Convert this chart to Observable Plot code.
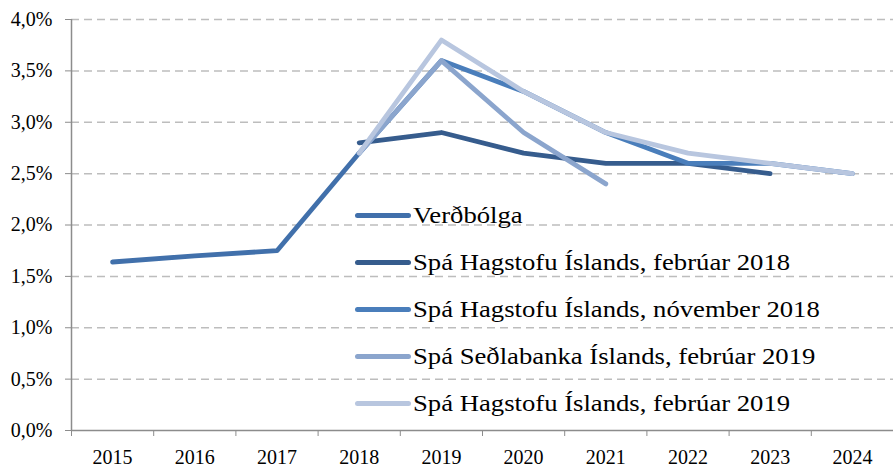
<!DOCTYPE html>
<html><head><meta charset="utf-8">
<script src="https://cdn.jsdelivr.net/npm/d3@7"></script>
<script src="https://cdn.jsdelivr.net/npm/@observablehq/plot@0.6"></script>
<style>
body{margin:0;background:#fff;}
#wrap{position:relative;width:893px;height:468px;}
svg text{font-family:"Liberation Serif",Tinos,serif;font-size:20px;fill:#000;}
#legend{position:absolute;left:355px;top:192px;font-family:"Liberation Serif",Tinos,serif;font-size:23px;color:#000;}
.row{display:flex;align-items:center;height:47px;white-space:nowrap;}
.sw{width:56px;height:5px;border-radius:3px;margin-right:2px;flex:none;}
.lab{display:inline-block;transform:scaleX(1.16);transform-origin:left center;}
</style></head>
<body><div id="wrap"><div id="legend"></div></div>
<script>
const years = [2015,2016,2017,2018,2019,2020,2021,2022,2023,2024];
const seriesNames = ["Verðbólga","Spá Hagstofu Íslands, febrúar 2018","Spá Hagstofu Íslands, nóvember 2018","Spá Seðlabanka Íslands, febrúar 2019","Spá Hagstofu Íslands, febrúar 2019"];
const colors = ["#4170ab","#365c8d","#4a7ebb","#8ba5cd","#b8c6df"];
const verdbolga = [[2015,1.64],[2016,1.70],[2017,1.75],[2018,2.70]];
const hagFeb2018 = [[2018,2.8],[2019,2.9],[2020,2.7],[2021,2.6],[2022,2.6],[2023,2.5]];
const hagNov2018 = [[2018,2.7],[2019,3.6],[2020,3.3],[2021,2.9],[2022,2.6],[2023,2.6],[2024,2.5]];
const sedFeb2019 = [[2018,2.7],[2019,3.6],[2020,2.9],[2021,2.4]];
const hagFeb2019 = [[2018,2.7],[2019,3.8],[2020,3.3],[2021,2.9],[2022,2.7],[2023,2.6],[2024,2.5]];
const yTicks = [0,0.005,0.01,0.015,0.02,0.025,0.03,0.035,0.04];
const allSeries = [verdbolga,hagFeb2018,hagNov2018,sedFeb2019,hagFeb2019];
const data = allSeries.flatMap((s,i)=>s.map(([year,v])=>({series:seriesNames[i],year,value:v/100})));
const boundaries = d3.range(years[0]-0.5, years[years.length-1]+1, 1);
const font = '"Liberation Serif",Tinos,serif';
const chart = Plot.plot({
  width:893,height:468,marginLeft:71,marginRight:0,marginTop:19,marginBottom:38,
  style:{fontFamily:font,fontSize:"20px",color:"#000",background:"#fff"},
  x:{type:"linear",domain:[years[0]-0.5,years[years.length-1]+0.5]},
  y:{domain:[0,0.04]},
  color:{domain:seriesNames,range:colors},
  marks:[
    Plot.gridY(yTicks.filter(d=>d>0),{stroke:"#bdbdbd",strokeOpacity:1,strokeWidth:1.5,strokeDasharray:"8,5"}),
    Plot.axisY({ticks:yTicks,tickFormat:d=>d3.format(".1%")(d).replace(".",","),tickSize:6,tickPadding:13,stroke:"#8c8c8c",label:null,fontSize:20}),
    Plot.axisX({ticks:boundaries,tickFormat:()=>"",tickSize:6,stroke:"#8c8c8c",label:null}),
    Plot.axisX({ticks:years,tickFormat:d=>String(d),tickSize:0,tickPadding:19,label:null,fontSize:20}),
    Plot.ruleX([years[0]-0.5],{stroke:"#8c8c8c",strokeWidth:1.5}),
    Plot.ruleY([0],{stroke:"#8c8c8c",strokeWidth:1.5}),
    Plot.line(data,{x:"year",y:"value",z:"series",stroke:"series",strokeWidth:4.8,strokeLinecap:"round",strokeLinejoin:"round"})
  ]
});
document.getElementById("wrap").prepend(chart);
const leg = document.getElementById("legend");
seriesNames.forEach((n,i)=>{
  const r=document.createElement("div");r.className="row";
  r.innerHTML=`<div class="sw" style="background:${colors[i]}"></div><span class="lab">${n}</span>`;
  leg.appendChild(r);
});
</script></body></html>
